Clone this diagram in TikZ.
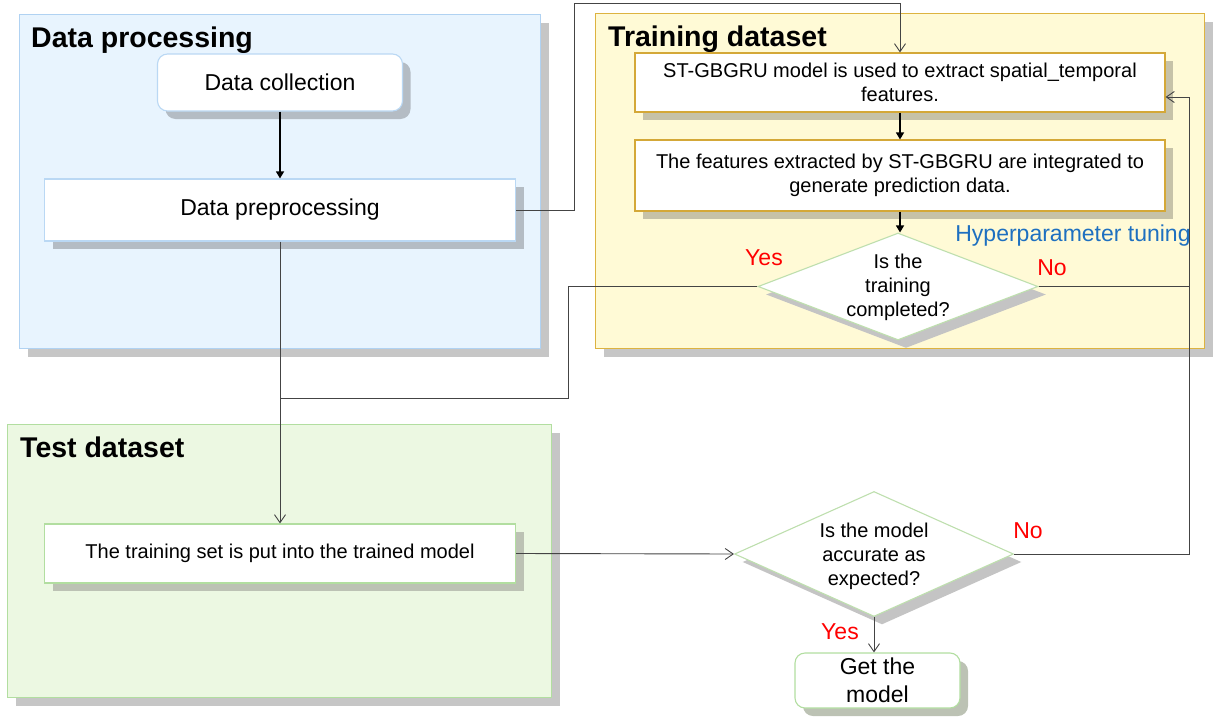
\documentclass[tikz,border=0pt]{standalone}
\usepackage{fontspec}
\setmainfont{Liberation Sans}
\usetikzlibrary{arrows.meta,shapes.geometric,shadows,calc}
\definecolor{cbfill}{HTML}{E8F4FE}
\definecolor{cbdraw}{HTML}{B0D2F2}
\definecolor{cyfill}{HTML}{FFFAD6}
\definecolor{cydraw}{HTML}{DDB340}
\definecolor{cgfill}{HTML}{ECF8E2}
\definecolor{cgdraw}{HTML}{B2DEA0}
\definecolor{bbdraw}{HTML}{BAD8F4}
\definecolor{bydraw}{HTML}{D4A838}
\definecolor{diadraw}{HTML}{BEDFAE}
\definecolor{shcont}{HTML}{C6C6C6}
\definecolor{shblue}{HTML}{B4BCC4}
\definecolor{shyel}{HTML}{C6C2A8}
\definecolor{shgrn}{HTML}{BCC2B4}
\definecolor{shdia}{HTML}{C4C4C4}
\definecolor{conncol}{HTML}{444444}
\definecolor{redlab}{HTML}{FF0000}
\definecolor{bluelab}{HTML}{1E70C0}
\begin{document}
\begin{tikzpicture}[x=1pt,y=-1pt,
  shad/.style={drop shadow={shadow xshift=8pt,shadow yshift=-8pt,opacity=1,fill=#1}},
  cont/.style={rectangle,line width=1.3pt,inner sep=0pt},
  title/.style={anchor=base west,font=\fontsize{28.5}{31}\selectfont\bfseries,inner sep=0pt},
  bigtxt/.style={font=\fontsize{23}{28}\selectfont,align=center},
  smalltxt/.style={font=\fontsize{20}{24}\selectfont,align=center},
  box/.style={rectangle,fill=white,line width=1.1pt,inner sep=0pt},
  dia/.style={diamond,fill=white,draw=diadraw,line width=1.1pt,inner sep=0pt,shad=shdia},
  lab/.style={font=\fontsize{23}{28}\selectfont,inner sep=0pt},
  conn/.style={draw=conncol,line width=0.9pt},
  fillarrow/.style={draw=black,line width=1.3pt,-{Triangle[width=8pt,length=7pt]}},
  openarrow/.style={conn,-{Straight Barb[width=11pt,length=8pt,line width=0.9pt]}}
]
\useasboundingbox (0,0) rectangle (1216,720);

% containers
\node[cont,fill=cbfill,draw=cbdraw,shad=shcont,minimum width=521pt,minimum height=334pt,anchor=north west] (cb) at (19,14) {};
\node[cont,fill=cyfill,draw=cydraw,shad=shcont,minimum width=609pt,minimum height=335pt,anchor=north west] (cy) at (595,13) {};
\node[cont,fill=cgfill,draw=cgdraw,shad=shcont,minimum width=544pt,minimum height=273pt,anchor=north west] (cg) at (7,424) {};

\node[title] (tdp) at (31,47) {Data processing};
\node[title] (ttd) at (608,46) {Training dataset};
\node[title] (tte) at (20,457) {Test dataset};

% boxes
\node[box,draw=bbdraw,rounded corners=10pt,shad=shblue,minimum width=245pt,minimum height=57pt,bigtxt] (dc) at (280,82.5) {Data collection};
\node[box,draw=bbdraw,shad=shblue,minimum width=471pt,minimum height=62pt,bigtxt] (pp) at (280,210) {Data preprocessing};
\node[box,draw=bydraw,shad=shyel,minimum width=530pt,minimum height=59pt,smalltxt] (b1) at (900,82.5) {ST-GBGRU model is used to extract spatial\_temporal\\features.};
\node[box,draw=bydraw,shad=shyel,minimum width=530pt,minimum height=71pt,smalltxt] (b2) at (900,175.5) {The features extracted by ST-GBGRU are integrated to\\generate prediction data.};
\node[box,draw=cgdraw,shad=shgrn,minimum width=471pt,minimum height=59pt,smalltxt] (tb) at (280,553.5) {The training set is put into the trained model};
\node[box,draw=cgdraw,rounded corners=10pt,shad=shgrn,minimum width=165pt,minimum height=55pt,bigtxt] (gm) at (877.5,680.5) {Get the\\model};

% diamonds
\node[dia,minimum width=280pt,minimum height=107pt] (d1) at (898,286.5) {};
\node[smalltxt] (d1t) at (898,287) {Is the\\training\\completed?};
\node[dia,minimum width=279pt,minimum height=125pt] (d2) at (874,554) {};
\node[smalltxt] (d2t) at (874,556) {Is the model\\accurate as\\expected?};

% labels
\node[lab,text=redlab] (y1) at (764,258) {Yes};
\node[lab,text=redlab] (n1) at (1052,268) {No};
\node[lab,text=bluelab] (hp) at (1073,236) {Hyperparameter tuning};
\node[lab,text=redlab] (n2) at (1028,531) {No};
\node[lab,text=redlab] (y2) at (840,632) {Yes};

% helper coordinates
\coordinate (c1) at (574,3);
\coordinate (c2) at (1189,97);
\coordinate (c3) at (568,398);

% connectors
\draw[fillarrow] (dc.south) -- (pp.north);
\draw[openarrow] (pp.east) -| (c1) -| (b1.north);
\draw[fillarrow] (b1.south) -- (b2.north);
\draw[fillarrow] (b2.south) -- (b2.south |- d1.north);
\draw[conn] (d1.east) -- (d1.east -| c2);
\draw[openarrow] (d2.east) -| (c2) -- (b1.east |- c2);
\draw[conn] (d1.west) -| (c3) -- (c3 -| pp.south);
\draw[openarrow] (pp.south) -- (tb.north);
\draw[openarrow] (tb.east) -- (d2.west);
\draw[openarrow] (d2.south) -- (d2.south |- gm.north);
\end{tikzpicture}
\end{document}
